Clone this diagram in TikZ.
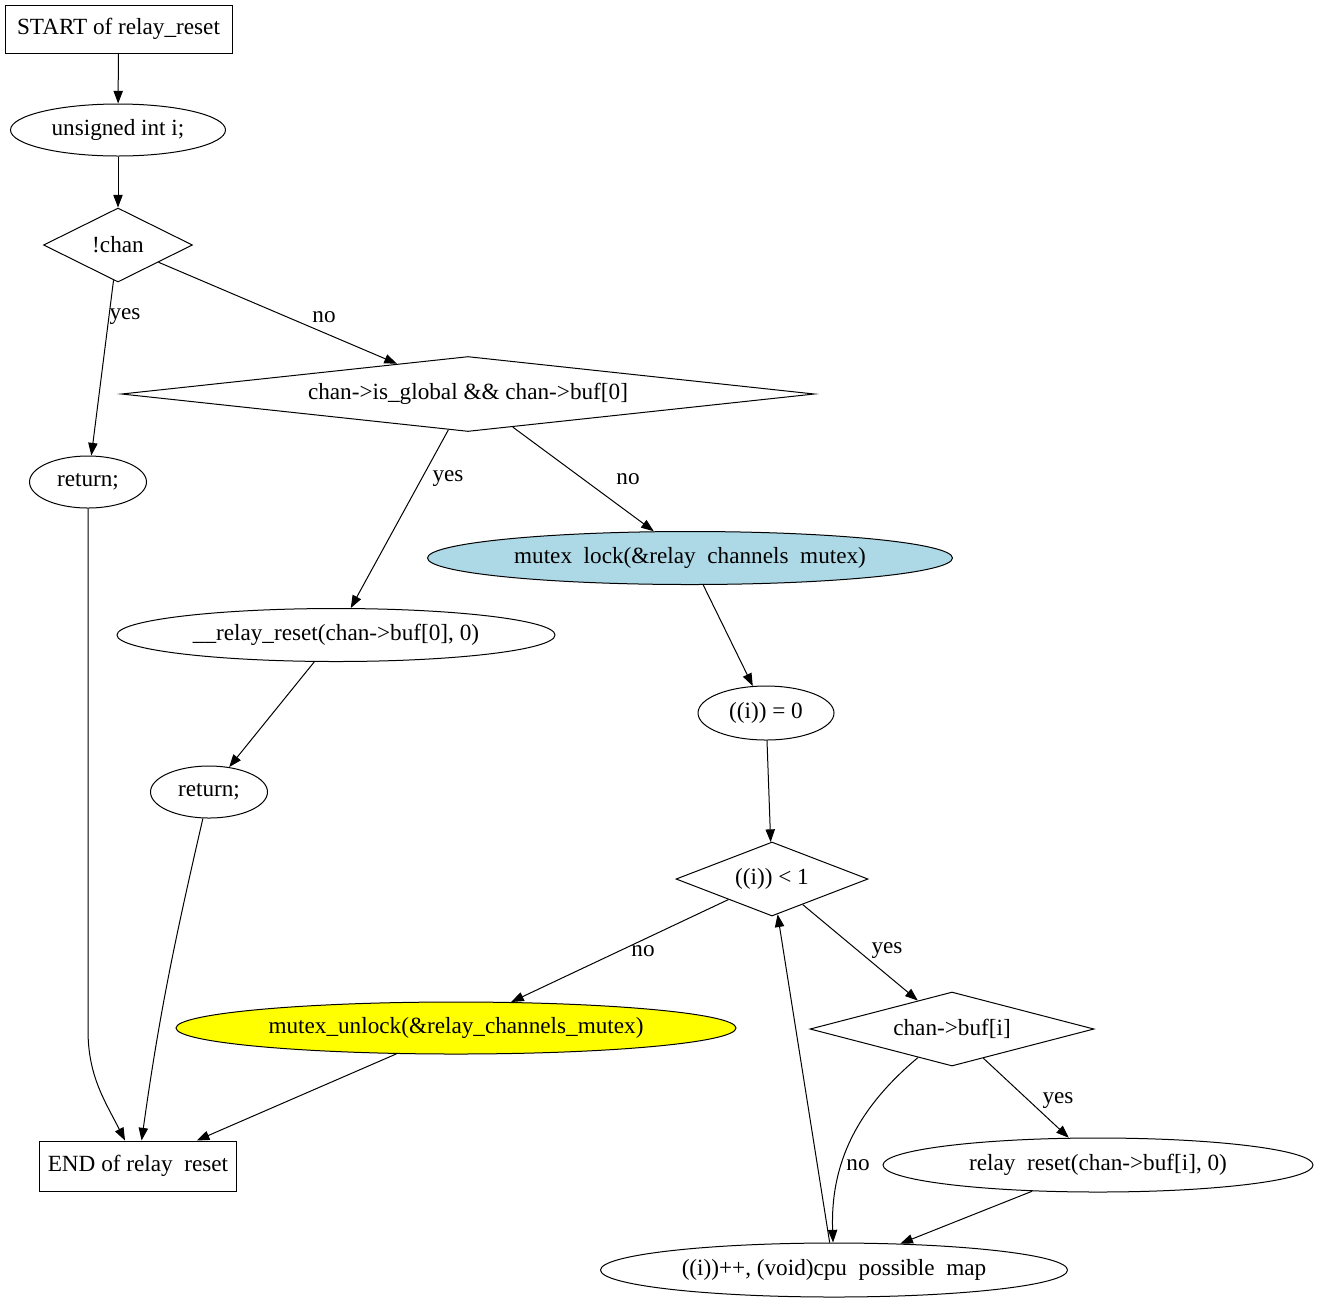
\documentclass[tikz,border=0pt]{standalone}
\usepackage{fontspec}
\setmainfont{Liberation Serif}
\usetikzlibrary{shapes.geometric,arrows.meta}
\definecolor{lightblue}{HTML}{ADD8E6}
\definecolor{yellowfill}{HTML}{FFFF00}
\newcommand\gap{\phantom{\_}}

\begin{document}
\begin{tikzpicture}[x=0.75pt,y=-0.75pt,font=\fontsize{17.4pt}{20pt}\selectfont,
  every node/.style={inner sep=0pt},
  box/.style={draw,rectangle,line width=0.75pt},
  oval/.style={draw,ellipse,line width=0.75pt},
  test/.style={draw,diamond,line width=0.75pt},
  flow/.style={-{Triangle[length=9.5pt,width=7pt]},line width=0.75pt}]
  \useasboundingbox (0,0) rectangle (1319,1304);

	\node [box,minimum width=170.25pt,minimum height=36pt] (0) at (118.5,29) {START of relay\_reset};
	\node [oval,minimum width=161.25pt,minimum height=39pt] (1) at (118,130) {unsigned int i;};
	\node [test,aspect=2,minimum width=111.75pt,minimum height=55.5pt] (2) at (118,245) {!chan};
	\node [oval,minimum width=87.75pt,minimum height=39pt] (3) at (88,482) {return;};
	\node [test,aspect=9.2,minimum width=519.75pt,minimum height=56.25pt] (4) at (468,394) {chan->is\_global \&\& chan->buf[0]};
	\node [oval,minimum width=328.5pt,minimum height=39.75pt] (5) at (336,635) {\_\_relay\_reset(chan->buf[0], 0)};
	\node [oval,fill=lightblue,minimum width=393.75pt,minimum height=39.75pt] (6) at (690,558) {mutex\gap lock(\&relay\gap channels\gap mutex)};
	\node [oval,minimum width=87.75pt,minimum height=39pt] (7) at (209,792) {return;};
	\node [oval,minimum width=102pt,minimum height=40.5pt] (8) at (766,713) {((i)) = 0};
	\node [test,aspect=2.6,minimum width=144pt,minimum height=55.5pt] (9) at (772,879) {((i)) < 1};
	\node [oval,fill=yellowfill,minimum width=420pt,minimum height=39pt] (10) at (456,1028) {mutex\_unlock(\&relay\_channels\_mutex)};
	\node [test,aspect=3.8,minimum width=213pt,minimum height=55.5pt] (11) at (952,1029) {chan->buf[i]};
	\node [box,minimum width=147.75pt,minimum height=37.5pt] (12) at (138,1166) {END of relay\gap reset};
	\node [oval,minimum width=322.5pt,minimum height=40.5pt] (13) at (1098,1165) {relay\gap reset(chan->buf[i], 0)};
	\node [oval,minimum width=350.25pt,minimum height=40.5pt] (14) at (834,1270) {((i))++, (void)cpu\gap possible\gap map};
	% edges
	\draw [flow] (0) to (1);
	\draw [flow] (1) to (2);
	\draw [flow] (2) to (3) node at (125,317) {yes};
	\draw [flow] (2) to (4) node at (324,317) {no};
	\draw [flow] (4) to (5) node at (448,479) {yes};
	\draw [flow] (4) to (6) node at (628,479) {no};
	\draw [flow] (5) to (7);
	\draw [flow] (6) to (8);
	\draw [flow] (8) to (9);
	\draw [flow] (9) to (10) node at (643,951) {no};
	\draw [flow] (9) to (11) node at (887,951) {yes};
	\draw [flow] (11) to (13) node at (1058,1101) {yes};
	\draw [flow] (11) to [out=-140,in=92] (14) node at (858,1165) {no};
	\draw [flow] (13) to (14);
	\draw [flow] (14) to (9);
	\draw [flow] (3) -- (88,1030) to [out=-90,in=117] (12);
	\draw [flow] (7) to [out=-103,in=82] (12);
	\draw [flow] (10) to (12);
\end{tikzpicture}
\end{document}
